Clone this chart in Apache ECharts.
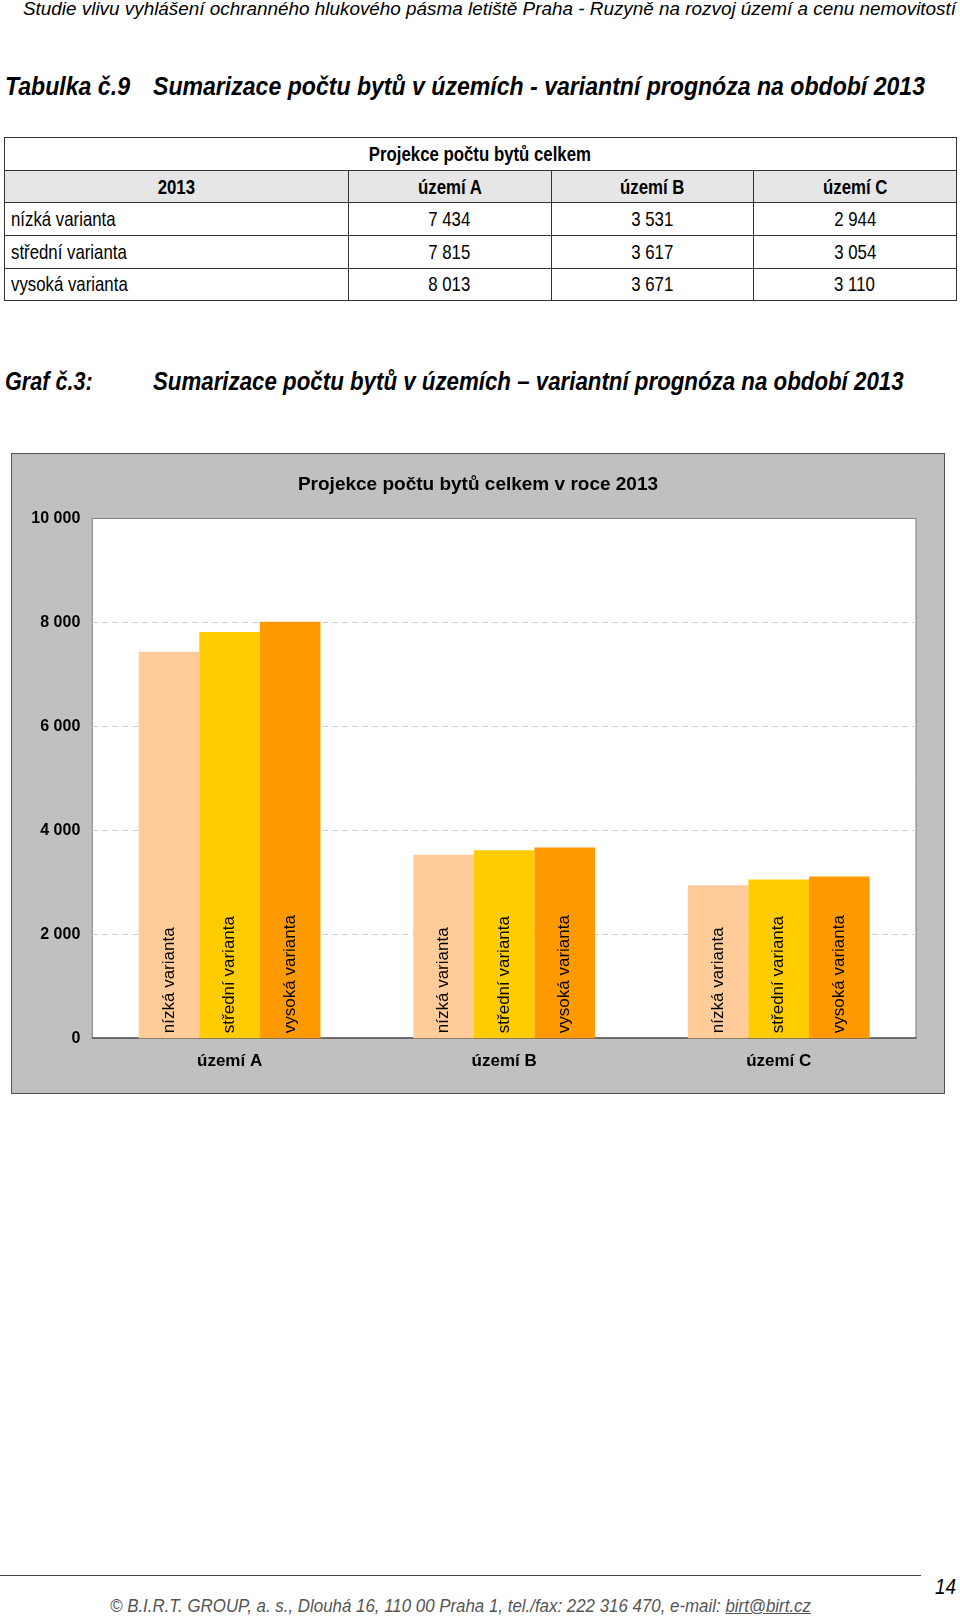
<!DOCTYPE html>
<html><head><meta charset="utf-8">
<script src="https://cdn.jsdelivr.net/npm/echarts@6/dist/echarts.min.js"></script>
<style>
html,body{margin:0;padding:0;background:#fff;}
body{width:960px;height:1617px;position:relative;overflow:hidden;font-family:"Liberation Sans",Arial,sans-serif;color:#000;}
.t{position:absolute;white-space:nowrap;}
.t span{display:inline-block;transform-origin:left center;}
#tbl{position:absolute;left:3.5px;top:137.3px;width:952.5px;border-collapse:collapse;table-layout:fixed;font-size:21px;}
#tbl td{border:1px solid #333;height:31.6px;padding:0;text-align:center;vertical-align:middle;overflow:visible;white-space:nowrap;}
#tbl td span{display:inline-block;transform:scaleX(0.8);transform-origin:center center;}
#tbl td.l{text-align:left;padding-left:6px;}
#tbl td.l span{transform-origin:left center;}
#tbl tr.h td, #tbl tr.top td{font-weight:bold;}
#tbl tr.h td{background:#e6e6e6;}
#wrap{position:absolute;left:11px;top:452.5px;width:934px;height:641px;box-sizing:border-box;border:1px solid #555;background:#c0c0c0;}
#chart{width:932px;height:639px;}
</style></head>
<body>
<div class="t" style="left:22.7px;top:-2px;font-size:19px;line-height:22px;font-style:italic;"><span data-w="933">Studie vlivu vyhlášení ochranného hlukového pásma letiště Praha - Ruzyně na rozvoj území a cenu nemovitostí</span></div>
<div class="t" style="left:5px;top:71.6px;font-size:25px;line-height:28px;font-style:italic;font-weight:bold;"><span data-w="125">Tabulka č.9</span></div>
<div class="t" style="left:152.6px;top:71.6px;font-size:25px;line-height:28px;font-style:italic;font-weight:bold;"><span data-w="772">Sumarizace počtu bytů v územích - variantní prognóza na období 2013</span></div>
<table id="tbl"></table>
<div class="t" style="left:5.2px;top:366.5px;font-size:25px;line-height:28px;font-style:italic;font-weight:bold;"><span data-w="87.6">Graf č.3:</span></div>
<div class="t" style="left:152.6px;top:366.5px;font-size:25px;line-height:28px;font-style:italic;font-weight:bold;"><span data-w="750.6">Sumarizace počtu bytů v územích – variantní prognóza na období 2013</span></div>
<div id="wrap"><div id="chart"></div></div>
<div style="position:absolute;left:0;top:1575px;width:921px;border-top:1.5px solid #444;"></div>
<div class="t" style="left:935px;top:1574px;font-size:22px;line-height:26px;font-style:italic;"><span data-w="21">14</span></div>
<div class="t" style="left:110px;top:1596px;font-size:18px;line-height:21px;font-style:italic;color:#555;"><span data-w="701">© B.I.R.T. GROUP, a. s., Dlouhá 16, 110 00 Praha 1, tel./fax: 222 316 470, e-mail: <u>birt@birt.cz</u></span></div>
<script>
// ---- data ----
const tableTitle = 'Projekce počtu bytů celkem';
const yearLabel = '2013';
const categories = ['území A', 'území B', 'území C'];
const variants = ['nízká varianta', 'střední varianta', 'vysoká varianta'];
const nizka = [7434, 3531, 2944];
const stredni = [7815, 3617, 3054];
const vysoka = [8013, 3671, 3110];
const chartTitle = 'Projekce počtu bytů celkem v roce 2013';
const yTicks = [0, 2000, 4000, 6000, 8000, 10000];
const colors = ['#FFCC99', '#FFCC00', '#FF9900'];

function fmt(v){ return String(v).replace(/\B(?=(\d{3})+(?!\d))/g, ' '); }

// ---- table ----
const seriesVals = [nizka, stredni, vysoka];
let html = '<colgroup><col style="width:344.2px"><col style="width:202.9px"><col style="width:202.1px"><col style="width:203.3px"></colgroup>';
html += '<tr class="top"><td colspan="4"><span>' + tableTitle + '</span></td></tr>';
html += '<tr class="h"><td><span>' + yearLabel + '</span></td>' + categories.map(c => '<td><span>' + c + '</span></td>').join('') + '</tr>';
variants.forEach((v, i) => {
  html += '<tr><td class="l"><span>' + v + '</span></td>' + seriesVals[i].map(x => '<td><span>' + fmt(x) + '</span></td>').join('') + '</tr>';
});
document.getElementById('tbl').innerHTML = html;

// ---- fit headings ----
document.querySelectorAll('[data-w]').forEach(el => {
  const w = el.getBoundingClientRect().width;
  el.style.transform = 'scaleX(' + (parseFloat(el.dataset.w) / w) + ')';
});

// ---- chart ----
const chart = echarts.init(document.getElementById('chart'));
const font = '"Liberation Sans", Arial, sans-serif';
chart.setOption({
  backgroundColor: 'transparent',
  animation: false,
  title: {
    text: chartTitle, left: 'center', top: 16,
    textStyle: { fontFamily: font, fontSize: 19, fontWeight: 'bold', color: '#000' }
  },
  grid: { left: 80.3, right: 28, top: 64.5, bottom: 54.8, show: true, backgroundColor: '#fff', borderColor: '#7f7f7f', borderWidth: 1 },
  xAxis: {
    type: 'category', data: categories,
    axisTick: { show: false },
    axisLine: { lineStyle: { color: '#555', width: 1.5 } },
    axisLabel: { margin: 15, fontFamily: font, fontSize: 17, fontWeight: 'bold', color: '#000' }
  },
  yAxis: {
    type: 'value', min: yTicks[0], max: yTicks[yTicks.length - 1], interval: yTicks[1] - yTicks[0],
    axisLine: { show: false }, axisTick: { show: false },
    axisLabel: { margin: 12, fontFamily: font, fontSize: 16, fontWeight: 'bold', color: '#000', formatter: v => fmt(v) },
    splitLine: { showMinLine: false, showMaxLine: false, lineStyle: { color: '#cfcfcf', type: [6, 4], width: 1 } }
  },
  series: variants.map((name, i) => ({
    type: 'bar', name: name, data: seriesVals[i],
    barGap: '0%', barCategoryGap: '33.8%',
    itemStyle: { color: colors[i] },
    label: {
      show: true, position: 'insideBottom', rotate: 90, align: 'left', verticalAlign: 'middle',
      distance: 5, formatter: name, fontFamily: font, fontSize: 17, color: '#000'
    }
  }))
});
</script>
</body></html>
